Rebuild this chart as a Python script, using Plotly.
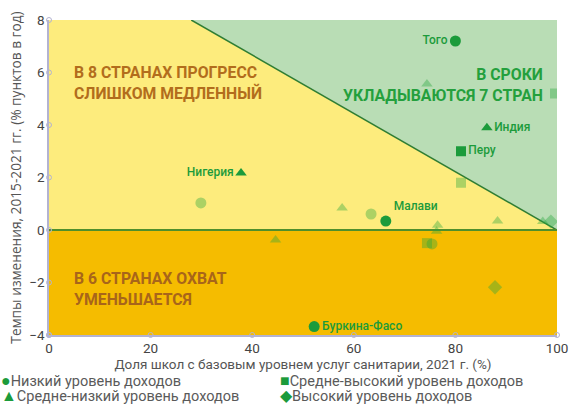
import plotly.graph_objects as go

# ---------------- data ----------------
x_vals = [80.0, 74.4, 99.6, 86.2, 81.1, 81.1, 37.8, 29.9, 57.7, 63.4, 66.3,
          76.5, 76.3, 74.4, 75.4, 88.3, 97.2, 98.8, 44.6, 87.8, 52.2]
y_vals = [7.2, 5.56, 5.2, 3.9, 3.0, 1.8, 2.17, 1.03, 0.84, 0.61, 0.34,
          0.18, -0.05, -0.5, -0.53, 0.34, 0.32, 0.32, -0.38, -2.18, -3.68]
income = ["low", "lower_middle", "upper_middle", "lower_middle", "upper_middle",
          "upper_middle", "lower_middle", "low", "lower_middle", "low", "low",
          "lower_middle", "lower_middle", "upper_middle", "low", "lower_middle",
          "lower_middle", "high", "lower_middle", "high", "low"]
labels = ["Того", "", "", "Индия", "Перу", "", "Нигерия", "", "", "", "Малави",
          "", "", "", "", "", "", "", "", "", "Буркина-Фасо"]

group_names = {
    "low": "Низкий уровень доходов",
    "upper_middle": "Средне-высокий уровень доходов",
    "lower_middle": "Средне-низкий уровень доходов",
    "high": "Высокий уровень доходов",
}
group_order = ["low", "upper_middle", "lower_middle", "high"]

x_ticks = [0, 20, 40, 60, 80, 100]
y_ticks = [-4, -2, 0, 2, 4, 6, 8]

target_level = 100   # universal coverage
years_left = 9       # 2021 -> 2030
x_min, x_max = 0, 100
y_min, y_max = -4, 8

# ---------------- styles ----------------
DARK = "#1c9b3b"
LIGHT = "rgba(40,165,60,0.38)"
YELLOW = "#fdec7d"
GREEN_BG = "#b9ddb5"
ORANGE = "#f5bc00"
AXIS = "#b3b3d1"
symbols = {"low": "circle", "lower_middle": "triangle-up",
           "upper_middle": "square", "high": "diamond"}
sizes = {"low": 11, "lower_middle": 10, "upper_middle": 10, "high": 11}
label_pos = {"Того": "middle left", "Индия": "middle right", "Перу": "middle right",
             "Нигерия": "middle left", "Малави": "top right",
             "Буркина-Фасо": "middle right"}
FONT = "Roboto"
WIDE = "Open Sans"

fig = go.Figure()

# background regions derived from the target line y = (100 - x) / 9
def target(x):
    return (target_level - x) / years_left

x_at_top = target_level - y_max * years_left
fig.add_shape(type="rect", x0=x_min, x1=x_max, y0=y_min, y1=0,
              fillcolor=ORANGE, line_width=0, layer="below")
fig.add_shape(type="path",
              path=f"M {x_min},0 L {x_min},{y_max} L {x_at_top},{y_max} L {x_max},{target(x_max)} Z",
              fillcolor=YELLOW, line_width=0, layer="below")
fig.add_shape(type="path",
              path=f"M {x_at_top},{y_max} L {x_max},{y_max} L {x_max},{target(x_max)} Z",
              fillcolor=GREEN_BG, line_width=0, layer="below")
fig.add_shape(type="line", x0=x_at_top, y0=y_max, x1=x_max, y1=target(x_max),
              line=dict(color="#2f7d33", width=1.5), layer="below")
fig.add_shape(type="line", x0=x_min, y0=0, x1=x_max, y1=0,
              line=dict(color="#4f8f2c", width=2), layer="below")

# points
for g in group_order:
    for hl in (False, True):
        idx = [i for i in range(len(x_vals)) if income[i] == g and bool(labels[i]) == hl]
        if not idx:
            continue
        fig.add_trace(go.Scatter(
            x=[x_vals[i] for i in idx],
            y=[y_vals[i] for i in idx],
            mode="markers+text" if hl else "markers",
            text=[labels[i] for i in idx],
            textposition=[label_pos.get(labels[i], "middle right") for i in idx],
            textfont=dict(family=FONT, size=12, color=DARK, weight=500),
            marker=dict(symbol=symbols[g], size=sizes[g],
                        color=DARK if hl else LIGHT, line_width=0),
            name=group_names[g], showlegend=False, hoverinfo="skip",
        ))

# axis tick dots
fig.add_trace(go.Scatter(x=[x_min] * len(y_ticks), y=y_ticks, mode="markers",
                         marker=dict(symbol="circle-open", size=5, color=AXIS, line_width=1),
                         cliponaxis=False, showlegend=False, hoverinfo="skip"))
fig.add_trace(go.Scatter(x=x_ticks, y=[y_min] * len(x_ticks), mode="markers",
                         marker=dict(symbol="circle-open", size=5, color=AXIS, line_width=1),
                         cliponaxis=False, showlegend=False, hoverinfo="skip"))

# region annotations
fig.add_annotation(x=0.045, y=0.8, xref="paper", yref="paper", xanchor="left", yanchor="middle",
                   text="<b>В 8 СТРАНАХ ПРОГРЕСС<br>СЛИШКОМ МЕДЛЕННЫЙ</b>", showarrow=False,
                   align="left", font=dict(family=FONT, size=15.8, color="#b26d1c"))
fig.add_annotation(x=0.045, y=0.145, xref="paper", yref="paper", xanchor="left", yanchor="middle",
                   text="<b>В 6 СТРАНАХ ОХВАТ<br>УМЕНЬШАЕТСЯ</b>", showarrow=False,
                   align="left", font=dict(family=FONT, size=15.8, color="#a8651a"))
fig.add_annotation(x=0.976, y=0.795, xref="paper", yref="paper", xanchor="right", yanchor="middle",
                   text="<b>В СРОКИ<br>УКЛАДЫВАЮТСЯ 7 СТРАН</b>", showarrow=False,
                   align="right", font=dict(family=FONT, size=15.8, color="#24a03d"))

# legend drawn as annotations
glyphs = {"low": "●", "lower_middle": "▲", "upper_middle": "■", "high": "◆"}
leg_pos = {"low": (-0.0985, -0.146), "upper_middle": (0.451, -0.146),
           "lower_middle": (-0.0985, -0.193), "high": (0.451, -0.193)}
for g in group_order:
    lx, ly = leg_pos[g]
    fig.add_annotation(x=lx, y=ly, xref="paper", yref="paper", xanchor="left", yanchor="middle",
                       text=(f"<span style='color:{DARK};font-size:16px'>{glyphs[g]}</span>"
                             f"{group_names[g]}"),
                       showarrow=False, font=dict(family=FONT, size=14.5, color="#5a5a5a"))

fig.update_layout(
    width=570, height=404,
    margin=dict(l=49, r=13, t=20, b=69),
    paper_bgcolor="white", plot_bgcolor="white",
    font=dict(family=FONT, size=13, color="#444"),
    showlegend=False,
    xaxis=dict(range=[x_min, x_max], tickvals=x_ticks, showgrid=False, zeroline=False,
               showline=True, linecolor=AXIS, linewidth=1.5, automargin=False,
               title=dict(text="Доля школ с базовым уровнем услуг санитарии, 2021 г. (%)",
                          font=dict(family=FONT, size=13.5, color="#555"), standoff=2),
               tickfont=dict(size=13.5, color="#444")),
    yaxis=dict(range=[y_min, y_max], tickvals=y_ticks, showgrid=False, zeroline=False,
               showline=True, linecolor=AXIS, linewidth=1.5, automargin=False,
               title=dict(text="Темпы изменения, 2015-2021 гг. (% пунктов в год)",
                          font=dict(family=WIDE, size=13.7, color="#555"), standoff=4),
               tickfont=dict(size=13.5, color="#444")),
)

fig.write_html("out.html", config={"displayModeBar": False},
               post_script="document.body.style.margin='0';")
